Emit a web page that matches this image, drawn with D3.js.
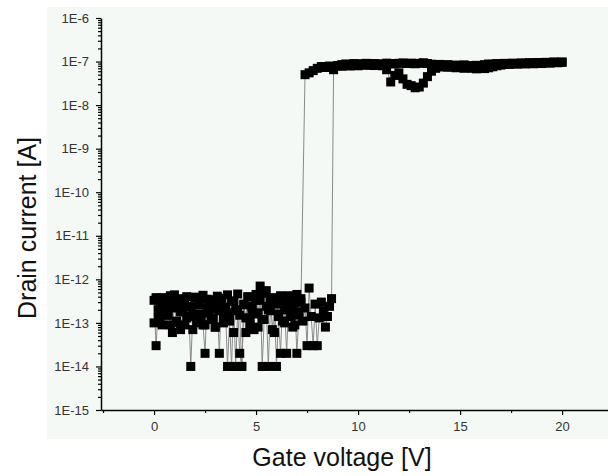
<!DOCTYPE html>
<html>
<head>
<meta charset="utf-8">
<script src="https://cdn.jsdelivr.net/npm/d3@7"></script>
<style>
  body { margin: 0; background: #fff; }
  svg { display: block; font-family: 'Liberation Sans', Arial, sans-serif; }
</style>
</head>
<body>
<svg id="chart"></svg>
<script>
// gate voltage steps [V]: fine steps in the off state, coarse in the on state
const stepOff = 0.1;
const stepOn = 0.2;

// forward sweep, off state: 0 V .. 8.7 V, current in units of 1e-13 A
const fwdOffStart = 0;
const fwdOff = [
  3.3, 0.3, 2.0, 1.2, 3.8, 2.5, 1.5, 3.0, 0.9, 2.2,
  4.4, 1.1, 2.8, 0.7, 1.8, 3.4, 1.3, 2.4, 0.1, 1.6,
  3.9, 1.0, 2.6, 1.4, 0.9, 0.2, 3.5, 1.7, 2.9, 1.2,
  0.8, 2.1, 0.2, 3.7, 1.5, 2.3, 0.1, 1.1, 0.1, 3.1,
  0.1, 1.9, 0.2, 0.1, 2.7, 1.3, 4.0, 0.9, 2.4, 1.6,
  3.3, 0.8, 7.0, 0.1, 1.2, 5.5, 2.0, 3.6, 0.7, 2.8,
  0.1, 1.4, 0.2, 3.2, 1.0, 2.5, 4.2, 1.7, 0.8, 2.9,
  0.2, 1.5, 3.6, 1.1, 2.2, 0.3, 6.3, 1.4, 0.3, 2.7,
  0.3, 1.3, 3.0, 1.9, 0.8, 1.4, 2.4, 3.6];

// forward sweep, on state: 8.8 V .. 20 V, units of 1e-8 A
const fwdOnStart = 8.8;
const fwdOn = [6.5, 8.0, 8.5, 8.8, 8.6, 9.0, 8.7, 8.9, 9.1, 8.8,
  9.0, 8.6, 8.9, 9.2, 9.0, 8.8, 9.1, 9.3, 9.0, 9.2,
  8.9, 9.1, 9.4, 9.0, 8.7, 8.4, 8.6, 8.2, 8.5, 8.0,
  8.3, 7.8, 8.4, 8.1, 7.6, 8.2, 7.9, 8.5, 8.8, 8.6,
  9.0, 8.7, 9.1, 8.9, 9.2, 9.0, 9.3, 9.1, 9.4, 9.2,
  9.5, 9.3, 9.6, 9.4, 9.7, 9.5, 9.8];

// backward sweep, on state: 20 V .. 7.4 V, units of 1e-8 A
const bwdOnStart = 20;
const bwdOn = [9.6, 9.4, 9.7, 9.2, 9.5, 9.0, 9.3, 8.9, 9.2, 8.8,
  9.1, 8.7, 9.0, 8.6, 8.8, 8.3, 8.0, 7.6, 7.2, 6.9,
  7.1, 6.8, 7.0, 7.3, 7.0, 7.4, 7.2, 7.6, 7.4, 7.8,
  7.5, 7.0, 6.0, 4.5, 3.2, 2.6, 2.5, 2.8, 3.0, 4.0,
  5.5, 4.8, 3.4, 6.5, 8.0, 8.3, 8.1, 8.4, 8.2, 8.5,
  8.0, 8.3, 7.9, 8.2, 7.8, 8.1, 7.6, 7.9, 7.3, 7.7,
  7.0, 6.2, 5.5, 5.0];

// backward sweep, off state: 7.2 V .. 0 V, units of 1e-13 A
const bwdOffStart = 7.2;
const bwdOff = [
  3.0, 1.8, 4.5, 0.9, 2.5, 1.4, 3.5, 0.2, 2.0, 1.1,
  4.2, 1.6, 2.7, 0.6, 3.8, 1.9, 0.1, 2.4, 4.8, 1.2,
  3.3, 1.7, 4.5, 0.7, 2.1, 1.3, 3.9, 0.6, 2.6, 0.1,
  1.5, 4.6, 2.0, 0.6, 3.2, 1.7, 4.4, 2.2, 1.0, 3.0,
  1.9, 4.1, 0.8, 2.6, 1.3, 3.4, 2.2, 0.9, 4.3, 1.6,
  2.9, 1.1, 3.7, 0.7, 2.3, 1.4, 4.0, 0.9, 2.5, 1.8,
  3.6, 1.0, 2.7, 0.6, 4.2, 1.5, 3.1, 2.0, 0.9, 2.4,
  1.3, 3.8, 1.0];

const xMajor = [0, 5, 10, 15, 20];
const xMinor = [-2.5, 2.5, 7.5, 12.5, 17.5];
const yDecades = [1e-15, 1e-14, 1e-13, 1e-12, 1e-11, 1e-10, 1e-9, 1e-8, 1e-7, 1e-6];

const xTitle = 'Gate voltage [V]';
const yTitle = 'Drain current [A]';

const width = 608, height = 476;

// build the sweep in measuring order
const seg = (start, step, vals, unit) => vals.map((v, i) => ({
  v: +(start + i * step).toFixed(2),
  i: v * unit,
}));
const data = [
  ...seg(fwdOffStart, stepOff, fwdOff, 1e-13),
  ...seg(fwdOnStart, stepOn, fwdOn, 1e-8),
  ...seg(bwdOnStart, -stepOn, bwdOn, 1e-8),
  ...seg(bwdOffStart, -stepOff, bwdOff, 1e-13),
];

const svg = d3.select('#chart')
  .attr('width', width)
  .attr('height', height);

svg.append('rect')
  .attr('x', 47).attr('y', 7)
  .attr('width', width - 47).attr('height', 432)
  .attr('fill', '#f5f9f5');

const x = d3.scaleLinear()
  .domain([-2.6, 22.25])
  .range([101, 608]);

const y = d3.scaleLog()
  .domain([1e-15, 1e-6])
  .range([410, 18]);

const yMinor = [];
yDecades.slice(0, -1).forEach((d) => {
  for (let m = 2; m <= 9; m++) yMinor.push(d * m);
});

// axes
const gx = svg.append('g')
  .attr('transform', `translate(0,${y(1e-15)})`);
gx.call(d3.axisBottom(x)
  .tickValues(xMinor)
  .tickSize(3)
  .tickSizeOuter(0)
  .tickFormat(''));
gx.select('.domain').remove();
svg.append('g')
  .attr('transform', `translate(0,${y(1e-15)})`)
  .call(d3.axisBottom(x)
    .tickValues(xMajor)
    .tickSize(5)
    .tickSizeOuter(0)
    .tickPadding(7)
    .tickFormat(d3.format('d')));

const gy = svg.append('g')
  .attr('transform', `translate(${x.range()[0]},0)`);
gy.call(d3.axisLeft(y)
  .tickValues(yMinor)
  .tickSize(3)
  .tickSizeOuter(0)
  .tickFormat(''));
gy.select('.domain').remove();
svg.append('g')
  .attr('transform', `translate(${x.range()[0]},0)`)
  .call(d3.axisLeft(y)
    .tickValues(yDecades)
    .tickSize(5)
    .tickSizeOuter(0)
    .tickPadding(7)
    .tickFormat((d) => '1E' + Math.round(Math.log10(d))));

svg.selectAll('.domain').attr('stroke-width', 1.5);
svg.selectAll('.tick line').attr('stroke-width', 1.2);
svg.selectAll('.tick text')
  .attr('font-size', 13)
  .attr('fill', '#333')
  .attr('font-family', "'Liberation Sans', Arial, sans-serif");

// sweep line and markers
svg.append('path')
  .datum(data)
  .attr('fill', 'none')
  .attr('stroke', '#8a8a8a')
  .attr('stroke-width', 1)
  .attr('d', d3.line().x((d) => x(d.v)).y((d) => y(d.i)));

const ms = 9;
svg.append('g')
  .selectAll('rect')
  .data(data)
  .join('rect')
  .attr('x', (d) => x(d.v) - ms / 2)
  .attr('y', (d) => y(d.i) - ms / 2)
  .attr('width', ms)
  .attr('height', ms)
  .attr('fill', '#000');

// titles
svg.append('text')
  .attr('x', 342)
  .attr('y', 466)
  .attr('text-anchor', 'middle')
  .attr('font-size', 25)
  .attr('fill', '#111')
  .text(xTitle);

svg.append('text')
  .attr('transform', 'translate(36,228) rotate(-90)')
  .attr('text-anchor', 'middle')
  .attr('font-size', 25)
  .attr('fill', '#111')
  .text(yTitle);
</script>
</body>
</html>
